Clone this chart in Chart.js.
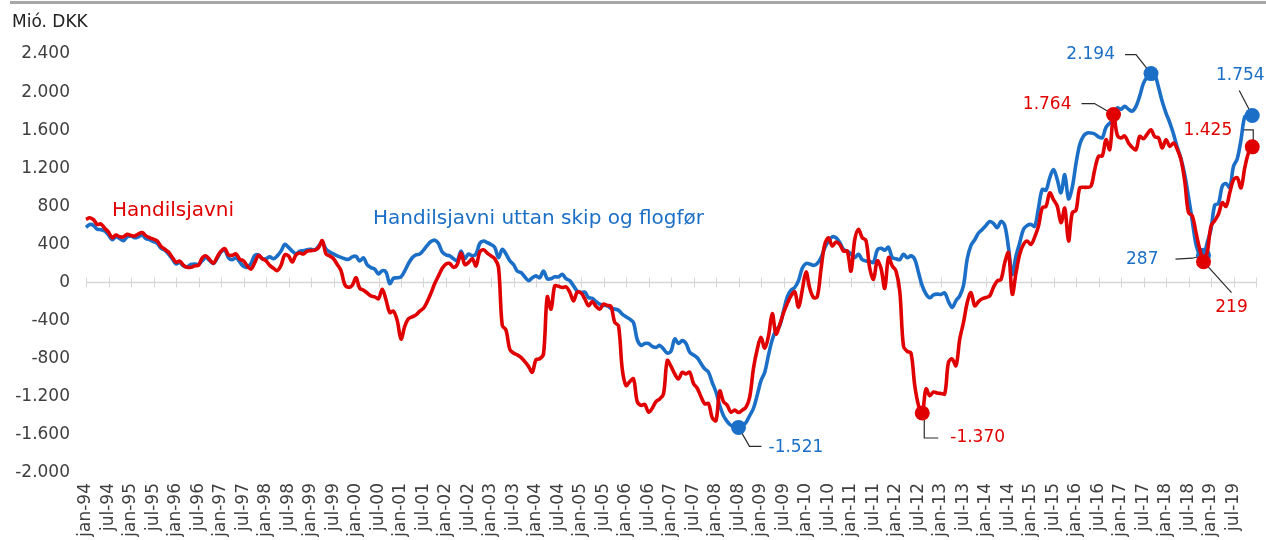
<!DOCTYPE html>
<html>
<head>
<meta charset="utf-8">
<script src="https://cdn.jsdelivr.net/npm/chart.js@4.4.1/dist/chart.umd.min.js"></script>
<style>
  html, body { margin: 0; padding: 0; background: #ffffff; }
  #wrap { width: 1266px; height: 540px; position: relative; }
</style>
</head>
<body>
<div id="wrap"><canvas id="chart" width="1266" height="540"></canvas></div>
<script>
// Monthly trade balance, mió. DKK, jan-94 .. des-19
const startYear = 1994;
const endYear = 2019;
const monthNames = ['jan', 'feb', 'mar', 'apr', 'mai', 'jun', 'jul', 'aug', 'sep', 'okt', 'nov', 'des'];

// Handilsjavni (total trade balance)
const handilsjavni = [
  663, 680, 660, 610, 615, 570, 530, 471, 500, 480,
  480, 506, 495, 489, 510, 525, 490, 470, 455, 436,
  380, 350, 320, 265, 215, 225, 180, 160, 160, 175,
  181, 260, 280, 240, 202, 270, 330, 356, 290, 285,
  300, 245, 227, 175, 140, 210, 286, 250, 227, 180,
  150, 125, 180, 290, 280, 215, 290, 310, 300, 330,
  335, 340, 366, 440, 300, 280, 250, 190, 125, -20,
  -50, -30, 50, -60, -80, -110, -140, -150, -170, -70,
  -180, -314, -300, -400, -593, -460, -380, -360, -340, -300,
  -270, -200, -110, -10, 70, 150, 195, 200, 160, 190,
  310, 190, 210, 250, 175, 320, 345, 310, 280, 250,
  160, -450, -500, -700, -740, -760, -785, -830, -880, -942,
  -810, -800, -750, -150, -279, -35, -40, -52, -45, -100,
  -192, -100, -110, -170, -244, -200, -250, -279, -227, -240,
  -250, -419, -454, -907, -1082, -1040, -1012, -1250, -1290, -1280,
  -1361, -1320, -1250, -1222, -1169, -820, -880, -960, -1012, -942,
  -960, -942, -1060, -1110, -1200, -1274, -1270, -1420, -1450, -1140,
  -1250, -1290, -1361, -1340, -1365, -1340, -1309, -1200, -900, -700,
  -576, -690, -560, -325, -540, -440, -320, -220, -140, -97,
  -262, -80, 112, -60, -157, -150, 140, 400, 471, 384,
  426, 400, 330, 330, 120, 450, 558, 471, 440, 150,
  35, 227, 150, -60, 262, 175, 120, -90, -670, -722,
  -740, -1082, -1291, -1370, -1117, -1187, -1150, -1160, -1165, -1169,
  -837, -803, -873, -593, -419, -209, -105, -244, -200, -170,
  -157, -140, -50, 17, 30, 209, 314, -122, 100, 300,
  401, 436, 400, 480, 593, 785, 800, 942, 870, 803,
  628, 780, 436, 733, 760, 995, 1000, 1000, 1012, 1187,
  1326, 1330, 1500, 1396, 1764, 1550, 1518, 1540, 1466, 1420,
  1396, 1535, 1510, 1560, 1605, 1530, 1520, 1413, 1500, 1430,
  1466, 1400, 1291, 1064, 733, 700, 524, 349, 219, 320,
  593, 650, 720, 838, 800, 942, 1080, 1100, 995, 1204,
  1361, 1425
];

// Handilsjavni uttan skip og flogfør (excluding ships and aircraft)
const uttanSkipFlog = [
  580, 610, 600, 560, 555, 540, 500, 450, 480, 460,
  440, 480, 490, 470, 480, 500, 460, 450, 430, 410,
  360, 340, 300, 250, 195, 210, 175, 165, 190, 195,
  190, 230, 260, 230, 200, 255, 320, 340, 260, 240,
  260, 215, 170, 160, 200, 285, 290, 250, 250, 270,
  250, 280, 330, 400, 370, 330, 300, 330, 335, 345,
  350, 340, 380, 420, 350, 320, 300, 280, 265, 250,
  244, 270, 275, 227, 260, 185, 157, 140, 90, 125,
  110, -10, 45, 50, 60, 122, 200, 260, 290, 300,
  340, 390, 430, 445, 410, 320, 290, 280, 250, 230,
  330, 250, 300, 280, 300, 410, 436, 420, 400, 370,
  262, 349, 300, 230, 190, 120, 105, 60, 20, 50,
  70, 50, 122, 40, 40, 60, 60, 87, 40, 20,
  -35, -90, -105, -100, -157, -165, -200, -227, -240, -244,
  -270, -279, -290, -332, -360, -384, -420, -600, -660, -640,
  -640, -670, -681, -660, -698, -740, -720, -593, -640, -610,
  -640, -733, -760, -790, -850, -907, -942, -1050, -1150, -1291,
  -1400, -1460, -1500, -1515, -1521, -1505, -1470, -1396, -1320, -1180,
  -1030, -942, -760, -600, -500, -454, -300, -150, -80, -52,
  20, 150, 200, 195, 180, 200, 260, 366, 436, 480,
  470, 420, 349, 330, 300, 262, 297, 240, 227, 220,
  210, 340, 360, 340, 370, 262, 250, 240, 297, 260,
  280, 244, 105, -35, -120, -160, -130, -122, -125, -110,
  -200, -262, -190, -140, -30, 250, 390, 450, 520, 558,
  600, 640, 620, 576, 642, 600, 366, 87, 279, 419,
  560, 600, 610, 590, 785, 977, 970, 1100, 1187, 1082,
  942, 1134, 880, 1000, 1250, 1450, 1540, 1570, 1570, 1560,
  1530, 1520, 1630, 1675, 1700, 1832, 1820, 1850, 1820, 1800,
  1850, 1960, 2094, 2160, 2194, 2180, 2050, 1900, 1780, 1680,
  1560, 1420, 1300, 1130, 900, 650, 400, 297, 287, 420,
  560, 813, 830, 1012, 1040, 1000, 1220, 1300, 1500, 1740,
  1760, 1754
];

// Y axis range and step
const yMin = -2000;
const yMax = 2400;
const yStep = 400;

// Month categories "jan-94" ... plus the closing "jan-20" boundary tick
const monthLabels = [];
for (let y = startYear; y <= endYear; y++) {
  for (const m of monthNames) monthLabels.push(m + '-' + String(y % 100).padStart(2, '0'));
}
monthLabels.push('jan-' + String((endYear + 1) % 100).padStart(2, '0'));

// Points that get a marker and a value callout
const redMarks = [223, 274, 298, 311];
const blueMarks = [174, 284, 298, 311];

const RED = '#e00000';
const BLUE = '#1b6fc6';
const FONT = '"DejaVu Sans", Verdana, sans-serif';
const TEXT = '#3f3f3f';

function fmt(v) {
  const s = Math.abs(Math.round(v)).toString().replace(/\B(?=(\d{3})+(?!\d))/g, '.');
  return (v < 0 ? '-' : '') + s;
}

// Callout layout: label offset and leader path relative to the marker centre
const callouts = [
  { ds: 1, i: 284, dx: -36, dy: -19, align: 'right',  path: [[-26, -19], [-15, -19], [0, 0]] },
  { ds: 0, i: 274, dx: -42, dy: -10, align: 'right',  path: [[-32, -11], [-19, -11], [0, 0]] },
  { ds: 1, i: 311, dx: -12, dy: -40, align: 'center', path: [[-13, -25], [0, 0]] },
  { ds: 0, i: 311, dx: -20, dy: -16, align: 'right',  path: [[-10, -17], [1, -17], [1, 0]] },
  { ds: 1, i: 298, dx: -45, dy: 4,   align: 'right',  path: [[-28, 4], [-11, 3], [0, 0]] },
  { ds: 0, i: 298, dx: 28,  dy: 46,  align: 'center', path: [[0, 0], [28, 31]] },
  { ds: 1, i: 174, dx: 30,  dy: 20,  align: 'left',   path: [[0, 0], [11, 19], [23, 19]] },
  { ds: 0, i: 223, dx: 28,  dy: 25,  align: 'left',   path: [[2, 0], [2, 25], [16, 25]] }
];

const decorPlugin = {
  id: 'decor',
  beforeDraw(chart) {
    const ctx = chart.ctx;
    ctx.save();
    // top rule
    ctx.fillStyle = '#a6a6a6';
    ctx.fillRect(10, 1, chart.width - 10, 3);
    // unit caption
    ctx.fillStyle = '#222222';
    ctx.font = '17px ' + FONT;
    ctx.textAlign = 'left';
    ctx.textBaseline = 'middle';
    ctx.fillText('Mió. DKK', 12, 23);
    ctx.restore();
  },
  beforeDatasetsDraw(chart) {
    const ctx = chart.ctx;
    const xs = chart.scales.x, ys = chart.scales.y;
    const y0 = ys.getPixelForValue(0);
    ctx.save();
    // zero axis with half-year tick marks
    ctx.strokeStyle = '#d6d6d6';
    ctx.lineWidth = 1.5;
    ctx.beginPath();
    ctx.moveTo(chart.chartArea.left, y0);
    ctx.lineTo(chart.chartArea.right, y0);
    ctx.stroke();
    ctx.lineWidth = 1;
    ctx.beginPath();
    for (let i = 0; i < monthLabels.length; i += 6) {
      const x = Math.round(xs.getPixelForValue(i)) + 0.5;
      ctx.moveTo(x, y0 - 5);
      ctx.lineTo(x, y0 + 5);
    }
    ctx.stroke();
    // callout leaders
    ctx.strokeStyle = '#2b2b2b';
    ctx.lineWidth = 1.2;
    for (const c of callouts) {
      const src = chart.data.datasets[c.ds].data;
      const px = xs.getPixelForValue(c.i);
      const py = ys.getPixelForValue(src[c.i]);
      ctx.beginPath();
      c.path.forEach((p, k) => {
        if (k === 0) ctx.moveTo(px + p[0], py + p[1]);
        else ctx.lineTo(px + p[0], py + p[1]);
      });
      ctx.stroke();
    }
    ctx.restore();
  },
  afterDatasetsDraw(chart) {
    const ctx = chart.ctx;
    const xs = chart.scales.x, ys = chart.scales.y;
    ctx.save();
    ctx.textBaseline = 'middle';
    // series names
    ctx.font = '20px ' + FONT;
    ctx.textAlign = 'left';
    ctx.fillStyle = RED;
    ctx.fillText('Handilsjavni', 112, 211);
    ctx.fillStyle = BLUE;
    ctx.fillText('Handilsjavni uttan skip og flogfør', 373, 219);
    // value callouts
    ctx.font = '17px ' + FONT;
    for (const c of callouts) {
      const ds = chart.data.datasets[c.ds];
      const v = ds.data[c.i];
      const px = xs.getPixelForValue(c.i);
      const py = ys.getPixelForValue(v);
      ctx.fillStyle = ds.borderColor;
      ctx.textAlign = c.align;
      ctx.fillText(fmt(v), px + c.dx, py + c.dy);
    }
    ctx.restore();
  }
};

function markerRadius(marks) {
  return monthLabels.map((_, i) => (marks.includes(i) ? 7.5 : 0));
}

new Chart(document.getElementById('chart'), {
  type: 'line',
  data: {
    labels: monthLabels,
    datasets: [
      {
        label: 'Handilsjavni',
        data: handilsjavni,
        borderColor: RED,
        backgroundColor: RED,
        borderWidth: 3.6,
        tension: 0.35,
        pointRadius: markerRadius(redMarks),
        pointBackgroundColor: RED,
        pointBorderWidth: 0,
        fill: false
      },
      {
        label: 'Handilsjavni uttan skip og flogfør',
        data: uttanSkipFlog,
        borderColor: BLUE,
        backgroundColor: BLUE,
        borderWidth: 3.6,
        tension: 0.35,
        pointRadius: markerRadius(blueMarks),
        pointBackgroundColor: BLUE,
        pointBorderWidth: 0,
        fill: false
      }
    ]
  },
  options: {
    responsive: false,
    devicePixelRatio: 1,
    animation: false,
    events: [],
    layout: { padding: { top: 54, right: 10, left: 0, bottom: 0 } },
    plugins: { legend: { display: false }, tooltip: { enabled: false }, title: { display: false } },
    scales: {
      x: {
        type: 'category',
        afterBuildTicks: s => { s.ticks = s.ticks.filter(t => t.value % 6 === 0); },
        afterFit: s => { s.height = 67; s.paddingLeft = 0; s.paddingRight = 0; },
        grid: { display: false, drawTicks: false },
        border: { display: false },
        ticks: {
          autoSkip: false,
          minRotation: 90,
          maxRotation: 90,
          padding: 10,
          color: TEXT,
          font: { family: FONT, size: 17 },
          callback(v) { return v === monthLabels.length - 1 ? '' : this.getLabelForValue(v); }
        }
      },
      y: {
        min: yMin,
        max: yMax,
        afterFit: s => { s.width = 86; s.paddingTop = 0; s.paddingBottom = 0; },
        grid: { display: false, drawTicks: false },
        border: { display: false },
        ticks: {
          stepSize: yStep,
          padding: 16,
          color: TEXT,
          font: { family: FONT, size: 17 },
          callback: v => fmt(v)
        }
      }
    }
  },
  plugins: [decorPlugin]
});
</script>
</body>
</html>
